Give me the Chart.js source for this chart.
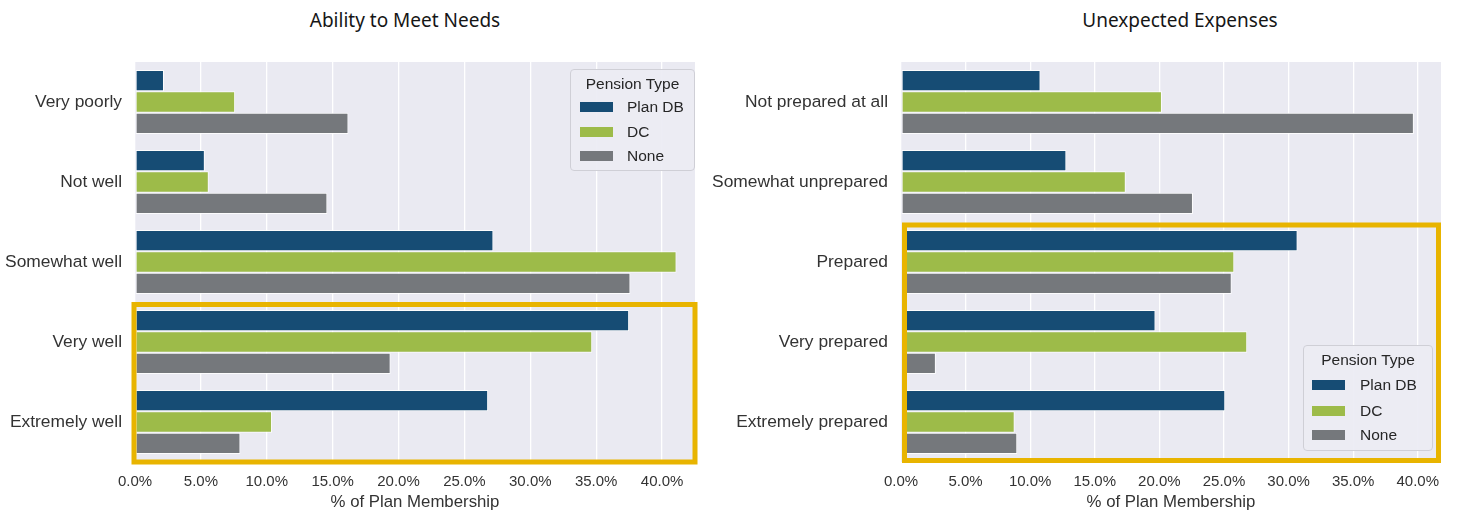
<!DOCTYPE html>
<html>
<head>
<meta charset="utf-8">
<script src="https://cdn.jsdelivr.net/npm/chart.js@4/dist/chart.umd.min.js"></script>
<style>
  html, body { margin: 0; padding: 0; background: #ffffff; }
  body { width: 1460px; height: 516px; position: relative; overflow: hidden; font-family: "Liberation Sans", Arial, sans-serif; }
  .wrap { position: absolute; top: 0; height: 516px; }
  .title { position: absolute; top: 7px; font-family: "Noto Sans", sans-serif; font-size: 19px; color: #161616; text-align: center; white-space: nowrap; }
  .legend { position: absolute; background: rgba(236,236,243,0.92); border: 1px solid #cfcfd6; border-radius: 4px; box-sizing: border-box; font-family: "Liberation Sans", Arial, sans-serif; color: #262626; }
  .legend .lt { position: absolute; left: 0; right: 0; text-align: center; font-size: 15.5px; }
  .legend .row { position: absolute; font-size: 15.5px; white-space: nowrap; }
  .legend .sw { position: absolute; width: 33px; height: 10px; }
</style>
</head>
<body>
<div class="title" style="left:205px; width:400px;">Ability to Meet Needs</div>
<div class="title" style="left:980px; width:400px;">Unexpected Expenses</div>
<div class="wrap" style="left:0px; width:705px;"><canvas id="c1" width="705" height="516"></canvas></div>
<div class="wrap" style="left:700px; width:760px;"><canvas id="c2" width="760" height="516"></canvas></div>
<div id="leg1" class="legend" style="left:570px; top:69px; width:125px; height:102px;"></div>
<div id="leg2" class="legend" style="left:1303px; top:345px; width:130px; height:106px;"></div>
<script>
// ---- data ----
const needsCategories = ['Very poorly', 'Not well', 'Somewhat well', 'Very well', 'Extremely well'];
const needsPlanDB = [2.2, 5.3, 27.2, 37.5, 26.8];
const needsDC     = [7.6, 5.6, 41.1, 34.7, 10.4];
const needsNone   = [16.2, 14.6, 37.6, 19.4, 8.0];

const expCategories = ['Not prepared at all', 'Somewhat unprepared', 'Prepared', 'Very prepared', 'Extremely prepared'];
const expPlanDB = [10.8, 12.8, 30.7, 19.7, 25.1];
const expDC     = [20.2, 17.4, 25.8, 26.8, 8.8];
const expNone   = [39.7, 22.6, 25.6, 2.7, 9.0];

const seriesNames = ['Plan DB', 'DC', 'None'];
const xTickValues = [0, 5, 10, 15, 20, 25, 30, 35, 40];
const legendTitle = 'Pension Type';
const xAxisTitle = '% of Plan Membership';

// ---- styles ----
const colors = ['#164c74', '#9dbb49', '#75787c'];
const plotBg = '#eaeaf2';
const boxColor = '#e8b400';
const textColor = '#333333';
const fontFam = '"Liberation Sans", Arial, sans-serif';

const bgPlugin = {
  id: 'plotBg',
  beforeDraw(chart) {
    const a = chart.chartArea, ctx = chart.ctx;
    ctx.save();
    ctx.fillStyle = plotBg;
    ctx.fillRect(a.left, a.top, a.right - a.left, a.bottom - a.top);
    ctx.restore();
  }
};

const boxPlugin = {
  id: 'hiBox',
  afterDatasetsDraw(chart, args, opts) {
    const a = chart.chartArea, y = chart.scales.y, ctx = chart.ctx;
    const top = (y.getPixelForValue(opts.start) + y.getPixelForValue(opts.start - 1)) / 2;
    const o = opts.off; // [left, top, right, bottom] line-centre offsets
    ctx.save();
    ctx.strokeStyle = boxColor;
    ctx.lineWidth = 5;
    ctx.strokeRect(a.left + o[0], top + o[1], (a.right + o[2]) - (a.left + o[0]), (a.bottom + o[3]) - (top + o[1]));
    ctx.restore();
  }
};

function makeChart(id, labels, vals, yWidth, padRight, xMax, box) {
  return new Chart(document.getElementById(id), {
    type: 'bar',
    data: {
      labels: labels,
      datasets: vals.map((v, i) => ({
        label: seriesNames[i],
        data: v,
        backgroundColor: colors[i],
        borderColor: 'rgba(255,255,255,0.85)',
        borderWidth: 1,
        borderSkipped: false,
        barPercentage: 1,
        categoryPercentage: 0.8
      }))
    },
    options: {
      indexAxis: 'y',
      responsive: false,
      animation: false,
      layout: { padding: { top: 62, right: padRight, left: 0, bottom: 0 } },
      plugins: {
        legend: { display: false },
        tooltip: { enabled: false },
        hiBox: box
      },
      scales: {
        x: {
          min: 0, max: xMax,
          afterBuildTicks(scale) { scale.ticks = xTickValues.map(v => ({ value: v })); },
          afterFit(scale) { scale.height = 54; },
          grid: { color: '#ffffff', lineWidth: 1.3, drawTicks: false },
          border: { display: false },
          ticks: {
            padding: 11,
            color: textColor,
            font: { family: fontFam, size: 15 },
            callback: v => Number(v).toFixed(1) + '%'
          },
          title: {
            display: true, text: xAxisTitle, color: textColor,
            font: { family: fontFam, size: 16.8 }, padding: { top: 3 }
          }
        },
        y: {
          afterFit(scale) { scale.width = yWidth; },
          grid: { display: false, drawTicks: false },
          border: { display: false },
          ticks: {
            padding: 13,
            color: textColor,
            font: { family: fontFam, size: 17.4 }
          }
        }
      }
    },
    plugins: [bgPlugin, boxPlugin]
  });
}

makeChart('c1', needsCategories, [needsPlanDB, needsDC, needsNone], 135, 10, 42.5, { start: 3, off: [-1, 2.5, 0, 0] });
makeChart('c2', expCategories, [expPlanDB, expDC, expNone], 201, 19, 41.8, { start: 2, off: [3.5, 3, -2.5, -1.5] });

function buildLegend(elId, titleTop, rowTops, swLeft, txtLeft) {
  const el = document.getElementById(elId);
  let html = '<div class="lt" style="top:' + titleTop + 'px">' + legendTitle + '</div>';
  seriesNames.forEach((n, i) => {
    html += '<div class="sw" style="left:' + swLeft + 'px; top:' + (rowTops[i] + 4) + 'px; background:' + colors[i] + '"></div>';
    html += '<div class="row" style="left:' + txtLeft + 'px; top:' + rowTops[i] + 'px">' + n + '</div>';
  });
  el.innerHTML = html;
}
buildLegend('leg1', 5, [28, 53, 77], 9, 56);
buildLegend('leg2', 5, [30, 56, 80], 8, 56);
</script>
</body>
</html>
